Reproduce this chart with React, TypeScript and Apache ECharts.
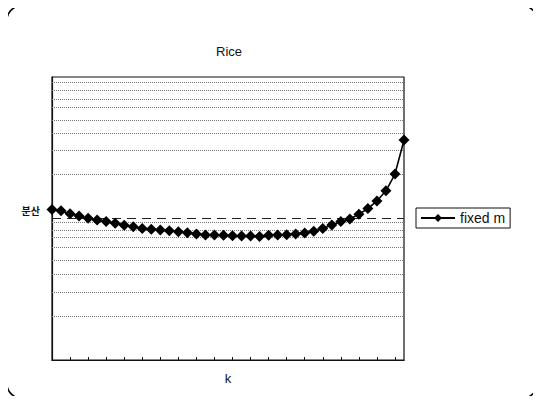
import React, { useEffect, useRef } from "react";
import * as echarts from "echarts";

const categories: string[] = Array.from({ length: 40 }, (_, i) => String(i + 1));
const fixedM: number[] = [
  53.2, 52.7, 51.7, 50.9, 50.1, 49.5, 48.9, 48.3, 47.6, 47.1,
  46.5, 46.2, 45.9, 45.7, 45.3, 45.0, 44.5, 44.2, 44.2, 44.1,
  43.9, 43.8, 43.8, 43.6, 44.1, 44.2, 44.3, 44.5, 44.9, 45.5,
  46.5, 47.7, 48.9, 49.8, 51.5, 53.5, 56.2, 59.8, 65.7, 77.7,
];
const gridLevels: number[] = [
  98.0, 95.2, 92.2, 89.2, 84.8, 80.3, 74.2, 65.6, 48.5, 45.9, 43.4, 40.0, 35.3, 30.4, 24.1, 15.3,
];
const varianceLevel: number[] = [50];

export default function App() {
  const ref = useRef<HTMLDivElement>(null);
  useEffect(() => {
    if (!ref.current) return;
    const chart = echarts.init(ref.current, null, { renderer: "svg" });
    const font = "'Liberation Sans', Arial, sans-serif";
    chart.setOption({
      animation: false,
      title: {
        text: "Rice",
        left: 224,
        top: 40,
        textAlign: "center",
        textStyle: { fontFamily: font, fontSize: 13, fontWeight: "normal", color: "#111" },
      },
      legend: {
        left: 416,
        top: 208,
        orient: "vertical",
        data: ["fixed m"],
        borderColor: "#111",
        borderWidth: 1,
        borderRadius: 0,
        padding: [3, 5, 3, 4],
        itemWidth: 34,
        itemHeight: 10,
        itemGap: 4,
        textStyle: { fontFamily: font, fontSize: 14, color: "#111" },
      },
      graphic: {
        elements: [
          {
            type: "rect",
            x: 7,
            y: 6,
            shape: { x: 0, y: 0, width: 530, height: 392, r: 14 },
            style: { fill: "rgba(0,0,0,0)", stroke: "#000", lineWidth: 1.5 },
            silent: true,
            z: 100,
          },
          {
            type: "text",
            x: 40,
            y: 210,
            style: {
              text: "분산",
              align: "right",
              verticalAlign: "middle",
              font: "bold 10px 'Noto Sans CJK KR', sans-serif",
              fill: "#111",
            },
          },
          {
            type: "text",
            x: 228,
            y: 378,
            style: {
              text: "k",
              align: "center",
              verticalAlign: "middle",
              font: "13px " + font,
              fill: "#111",
            },
          },
        ],
      },
      grid: {
        left: 52,
        right: 137,
        top: 77,
        bottom: 44,
        show: true,
        borderColor: "#111",
        borderWidth: 1.2,
        backgroundColor: "transparent",
      },
      xAxis: {
        type: "category",
        data: categories,
        boundaryGap: false,
        axisLine: { show: true, lineStyle: { color: "#111", width: 1.2 } },
        axisTick: { show: true, inside: true, length: 3, lineStyle: { color: "#111" } },
        axisLabel: { show: false },
        splitLine: { show: false },
      },
      yAxis: {
        type: "value",
        min: 0,
        max: 100,
        axisLine: { show: true, lineStyle: { color: "#111", width: 1.2 } },
        axisTick: { show: false },
        axisLabel: { show: false },
        splitLine: { show: false },
      },
      series: [
        {
          name: "grid",
          type: "line",
          data: [],
          silent: true,
          markLine: {
            silent: true,
            symbol: "none",
            label: { show: false },
            lineStyle: { type: "dotted", color: "#777", width: 1 },
            data: gridLevels.map((v) => ({ yAxis: v })),
          },
        },
        {
          name: "variance",
          type: "line",
          data: [],
          silent: true,
          markLine: {
            silent: true,
            symbol: "none",
            label: { show: false },
            lineStyle: { type: [9, 6], color: "#222", width: 1 },
            data: varianceLevel.map((v) => ({ yAxis: v })),
          },
        },
        {
          name: "fixed m",
          type: "line",
          data: fixedM,
          symbol: "diamond",
          symbolSize: 11,
          showSymbol: true,
          showAllSymbol: true,
          itemStyle: { color: "#000" },
          lineStyle: { color: "#000", width: 1.6 },
          z: 5,
        },
      ],
    });
    return () => chart.dispose();
  }, []);
  return (
    <div style={{ margin: -8, width: 541, height: 404, background: "#fff" }}>
      <div ref={ref} style={{ width: 541, height: 404 }} />
    </div>
  );
}
